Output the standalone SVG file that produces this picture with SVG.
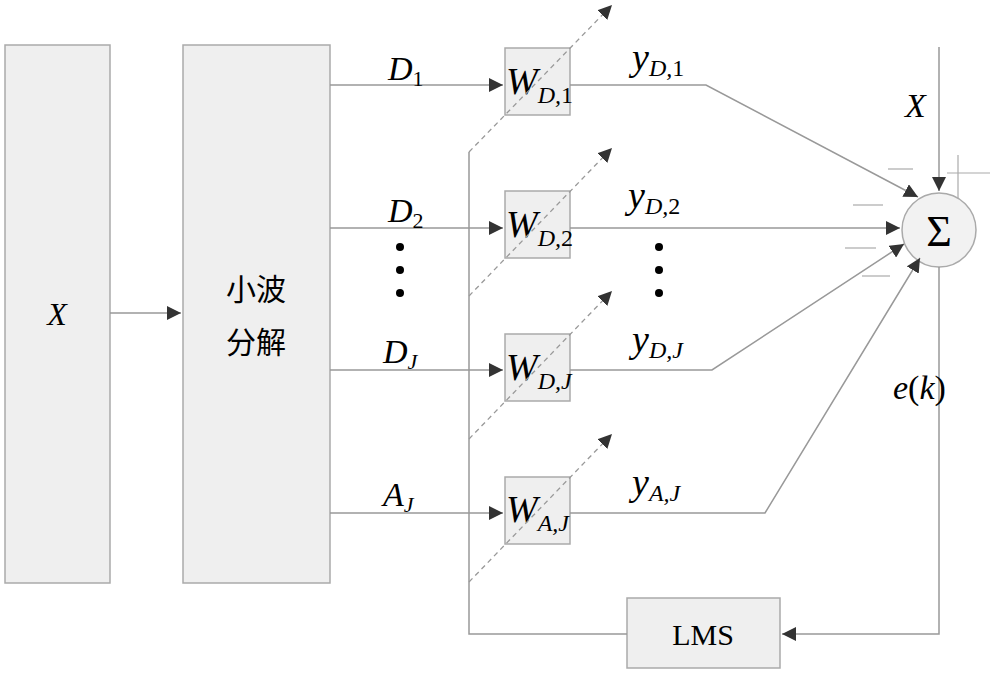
<svg xmlns="http://www.w3.org/2000/svg" width="1000" height="677" viewBox="0 0 1000 677">
<defs>
<marker id="ah" viewBox="0 0 10 10" refX="10" refY="5" markerWidth="14" markerHeight="14" markerUnits="userSpaceOnUse" orient="auto"><path d="M0,0L10,5L0,10z" fill="#333"/></marker>
<style>
.box{fill:#efefef;stroke:#aaa;stroke-width:1.5}
.ln{fill:none;stroke:#999;stroke-width:1.5}
.dl{fill:none;stroke:#999;stroke-width:1.3;stroke-dasharray:5,4}
.t{font-family:"Liberation Serif",serif;font-style:italic;fill:#000}
.c{font-family:"Liberation Serif","Noto Sans CJK SC",serif;fill:#000}
.sg{stroke:#aaa;stroke-width:1.2}
</style>
</defs>
<rect width="1000" height="677" fill="#fff"/>
<g id="nodeX"><rect class="box" x="5" y="45" width="105" height="538"/><text class="t" x="57" y="325" font-size="32" text-anchor="middle">X</text></g>
<g id="nodeWavelet"><rect class="box" x="183" y="45" width="147" height="538"/><text class="c" x="256" y="300" font-size="30" text-anchor="middle">小波</text><text class="c" x="256" y="353" font-size="30" text-anchor="middle">分解</text></g>
<g id="nodeW1"><rect class="box" x="505" y="48" width="65" height="67"/><text class="t" x="506" y="94" font-size="38">W<tspan font-size="24" dy="9">D,</tspan><tspan font-style="normal" font-size="24">1</tspan></text></g>
<g id="nodeW2"><rect class="box" x="505" y="191" width="65" height="67"/><text class="t" x="506" y="237" font-size="38">W<tspan font-size="24" dy="9">D,</tspan><tspan font-style="normal" font-size="24">2</tspan></text></g>
<g id="nodeWJ"><rect class="box" x="505" y="334" width="65" height="67"/><text class="t" x="506" y="380" font-size="38">W<tspan font-size="24" dy="9">D,J</tspan></text></g>
<g id="nodeWA"><rect class="box" x="505" y="477" width="65" height="67"/><text class="t" x="506" y="522" font-size="38">W<tspan font-size="24" dy="9">A,J</tspan></text></g>
<g id="nodeSum"><circle cx="939" cy="230" r="37" fill="#f2f2f2" stroke="#aaa" stroke-width="1.5"/><text x="939" y="246" font-size="44" text-anchor="middle" font-family="Liberation Serif,serif">Σ</text></g>
<g id="nodeLMS"><rect class="box" x="627" y="598" width="153" height="70"/><text class="c" x="703" y="645" font-size="30" text-anchor="middle">LMS</text></g>
<g id="connectors">
<line class="ln" x1="110" y1="313" x2="181" y2="313" marker-end="url(#ah)"/>
<line class="ln" x1="330" y1="85" x2="503" y2="85" marker-end="url(#ah)"/>
<line class="ln" x1="330" y1="228" x2="503" y2="228" marker-end="url(#ah)"/>
<line class="ln" x1="330" y1="370" x2="503" y2="370" marker-end="url(#ah)"/>
<line class="ln" x1="330" y1="513" x2="503" y2="513" marker-end="url(#ah)"/>
<polyline class="ln" points="570,85 706,85 918,197" marker-end="url(#ah)"/>
<line class="ln" x1="570" y1="228" x2="900" y2="228" marker-end="url(#ah)"/>
<polyline class="ln" points="570,370 712,370 904,244" marker-end="url(#ah)"/>
<polyline class="ln" points="570,513 765,513 920,258" marker-end="url(#ah)"/>
<line class="ln" x1="939" y1="47" x2="939" y2="191" marker-end="url(#ah)"/>
<polyline class="ln" points="939,267 939,634 782,634" marker-end="url(#ah)"/>
<polyline class="ln" points="627,634 469,634 469,152"/>
<line class="dl" x1="469" y1="152" x2="612" y2="5" marker-end="url(#ah)"/>
<line class="dl" x1="469" y1="296" x2="612" y2="148" marker-end="url(#ah)"/>
<line class="dl" x1="469" y1="439" x2="612" y2="291" marker-end="url(#ah)"/>
<line class="dl" x1="469" y1="582" x2="612" y2="434" marker-end="url(#ah)"/>
<line class="sg" x1="888" y1="169" x2="913" y2="169"/>
<line class="sg" x1="853" y1="205" x2="883" y2="205"/>
<line class="sg" x1="845" y1="248" x2="876" y2="248"/>
<line class="sg" x1="862" y1="276" x2="890" y2="276"/>
<line class="sg" x1="958" y1="155" x2="958" y2="198"/>
<line class="sg" x1="947" y1="173" x2="990" y2="173"/>
</g>
<g id="labels">
<text class="t" x="388" y="80" font-size="34">D<tspan font-style="normal" font-size="22" dy="6">1</tspan></text>
<text class="t" x="388" y="222" font-size="34">D<tspan font-style="normal" font-size="22" dy="6">2</tspan></text>
<text class="t" x="383" y="363" font-size="34">D<tspan font-size="22" dy="6">J</tspan></text>
<text class="t" x="383" y="506" font-size="34">A<tspan font-size="22" dy="6">J</tspan></text>
<text class="t" x="632" y="70" font-size="38">y<tspan font-size="24" dy="6">D,</tspan><tspan font-style="normal" font-size="24">1</tspan></text>
<text class="t" x="628" y="208" font-size="38">y<tspan font-size="24" dy="6">D,</tspan><tspan font-style="normal" font-size="24">2</tspan></text>
<text class="t" x="632" y="352" font-size="38">y<tspan font-size="24" dy="6">D,J</tspan></text>
<text class="t" x="632" y="495" font-size="38">y<tspan font-size="24" dy="6">A,J</tspan></text>
<text class="t" x="905" y="117" font-size="34">X</text>
<text x="893" y="399" font-size="34" font-family="Liberation Serif,serif"><tspan font-style="italic">e</tspan>(<tspan font-style="italic">k</tspan>)</text>
<g fill="#000"><circle cx="400" cy="247" r="4"/><circle cx="400" cy="270" r="4"/><circle cx="400" cy="293" r="4"/><circle cx="659" cy="247" r="4"/><circle cx="659" cy="270" r="4"/><circle cx="659" cy="293" r="4"/></g>
</g>
</svg>
